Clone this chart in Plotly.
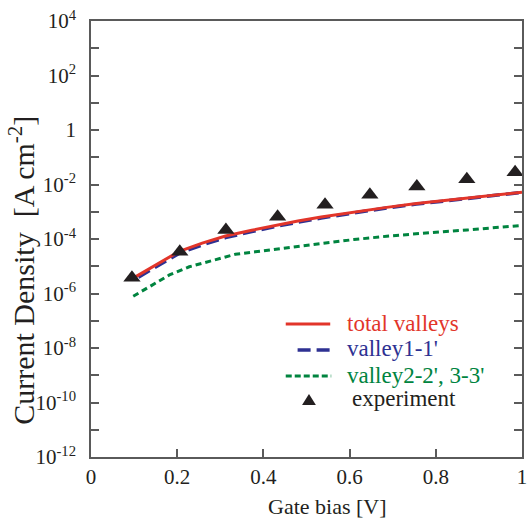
import plotly.graph_objects as go

# Gate bias [V] and log10 of current density [A cm^-2] for each series
gate_total = [0.102, 0.15, 0.205, 0.258, 0.312, 0.373, 0.434, 0.48, 0.534, 0.61, 0.686, 0.755, 0.872, 1.0]
log_j_total = [-5.40, -4.95, -4.45, -4.15, -3.89, -3.68, -3.48, -3.34, -3.19, -3.01, -2.84, -2.70, -2.50, -2.28]

gate_v11 = [0.11, 0.15, 0.205, 0.258, 0.312, 0.373, 0.434, 0.534, 0.61, 0.686, 0.755, 0.872, 1.0]
log_j_v11 = [-5.40, -5.02, -4.52, -4.22, -3.95, -3.73, -3.52, -3.23, -3.04, -2.86, -2.72, -2.51, -2.29]

gate_v23 = [0.098, 0.15, 0.182, 0.228, 0.281, 0.335, 0.381, 0.434, 0.48, 0.534, 0.61, 0.686, 0.755, 0.817, 0.873, 1.0]
log_j_v23 = [-6.10, -5.62, -5.32, -5.02, -4.79, -4.56, -4.47, -4.36, -4.27, -4.16, -4.02, -3.90, -3.80, -3.73, -3.67, -3.50]

gate_exp = [0.095, 0.206, 0.313, 0.433, 0.543, 0.647, 0.756, 0.872, 0.984]
log_j_exp = [-5.42, -4.47, -3.67, -3.18, -2.74, -2.38, -2.07, -1.81, -1.55]

x_ticks = [0, 0.2, 0.4, 0.6, 0.8, 1.0]
x_tick_text = ["0", "0.2", "0.4", "0.6", "0.8", "1"]
y_decades = list(range(-12, 5))

legend_names = ["total valleys", "valley1-1'", "valley2-2', 3-3'", "experiment"]

RED = "#e2352a"
BLUE = "#2e3192"
GREEN = "#00843f"
INK = "#231f20"
FRAME = "#5a5a5a"
FONT = "Liberation Serif, Times New Roman, serif"


def pow10(vals):
    return [10 ** v for v in vals]


def y_label(k):
    if k % 2:
        return ""
    if k == 0:
        return "1"
    return f"10<sup>{k}</sup>"


fig = go.Figure()
fig.add_trace(go.Scatter(x=gate_v11, y=pow10(log_j_v11), mode="lines",
                         line=dict(color=BLUE, width=3.5, dash="13px,6px"),
                         name=legend_names[1]))
fig.add_trace(go.Scatter(x=gate_total, y=pow10(log_j_total), mode="lines",
                         line=dict(color=RED, width=3),
                         name=legend_names[0]))
fig.add_trace(go.Scatter(x=gate_v23, y=pow10(log_j_v23), mode="lines",
                         line=dict(color=GREEN, width=3, dash="6px,4px"),
                         name=legend_names[2]))
fig.add_trace(go.Scatter(x=gate_exp, y=pow10(log_j_exp), mode="markers",
                         marker=dict(symbol="triangle-up", size=15, color=INK),
                         name=legend_names[3]))

# Plot area in pixels: left 91, right 527, top 21, bottom 457
L, R, T, B = 91, 527, 21, 457


def px(xp):
    return (xp - L) / (R - L)


def py(yp):
    return (B - yp) / (B - T)


# Hand-placed legend block
shapes = [
    dict(type="line", xref="paper", yref="paper", x0=px(288), x1=px(333), y0=py(324), y1=py(324),
         line=dict(color=RED, width=3)),
    dict(type="line", xref="paper", yref="paper", x0=px(300), x1=px(333), y0=py(350), y1=py(350),
         line=dict(color=BLUE, width=3.5, dash="13px,6px")),
    dict(type="line", xref="paper", yref="paper", x0=px(288), x1=px(334), y0=py(376), y1=py(376),
         line=dict(color=GREEN, width=3, dash="6px,3px")),
    dict(type="path", xref="paper", yref="paper",
         path=f"M {px(304.5)} {py(405)} L {px(318.5)} {py(405)} L {px(311.5)} {py(394)} Z",
         fillcolor=INK, line=dict(width=0)),
]

annotations = [
    dict(text=legend_names[0], x=px(348), y=py(323), font=dict(color=RED)),
    dict(text=legend_names[1], x=px(348), y=py(349), font=dict(color=BLUE)),
    dict(text=legend_names[2], x=px(348), y=py(375), font=dict(color=GREEN)),
    dict(text=legend_names[3], x=px(353), y=py(398), font=dict(color=INK)),
]
for a in annotations:
    a.update(xref="paper", yref="paper", xanchor="left", yanchor="middle", showarrow=False)
    a["font"].update(family=FONT, size=23)

# Axis titles
annotations.append(dict(text="Current Density\u00a0\u00a0[A cm<sup>-2</sup>]", textangle=-90,
                        x=px(21), y=py(270), xref="paper", yref="paper",
                        xanchor="center", yanchor="middle", showarrow=False,
                        font=dict(family=FONT, size=30, color=INK)))
annotations.append(dict(text="Gate bias [V]", x=px(330), y=py(506), xref="paper", yref="paper",
                        xanchor="center", yanchor="middle", showarrow=False,
                        font=dict(family=FONT, size=22, color=INK)))

axis_common = dict(showline=True, linecolor=FRAME, linewidth=1.5, ticks="inside",
                   ticklen=8, tickwidth=1.5, tickcolor=FRAME, showgrid=False, zeroline=False,
                   tickfont=dict(family=FONT, size=21, color=INK), ticklabeloverflow="allow")

fig.update_layout(
    width=530, height=523,
    margin=dict(l=L, r=530 - R, t=T, b=523 - B),
    paper_bgcolor="white", plot_bgcolor="white",
    showlegend=False,
    shapes=shapes,
    annotations=annotations,
    xaxis=dict(range=[0, 1], tickvals=x_ticks, ticktext=x_tick_text, mirror=True,
               ticklabelstandoff=0, **axis_common),
    yaxis=dict(type="log", range=[-12, 4], tickvals=[10 ** k for k in y_decades],
               ticktext=[y_label(k) for k in y_decades], mirror="allticks",
               ticklabelstandoff=9, **axis_common),
)

fig.write_html("out.html")
